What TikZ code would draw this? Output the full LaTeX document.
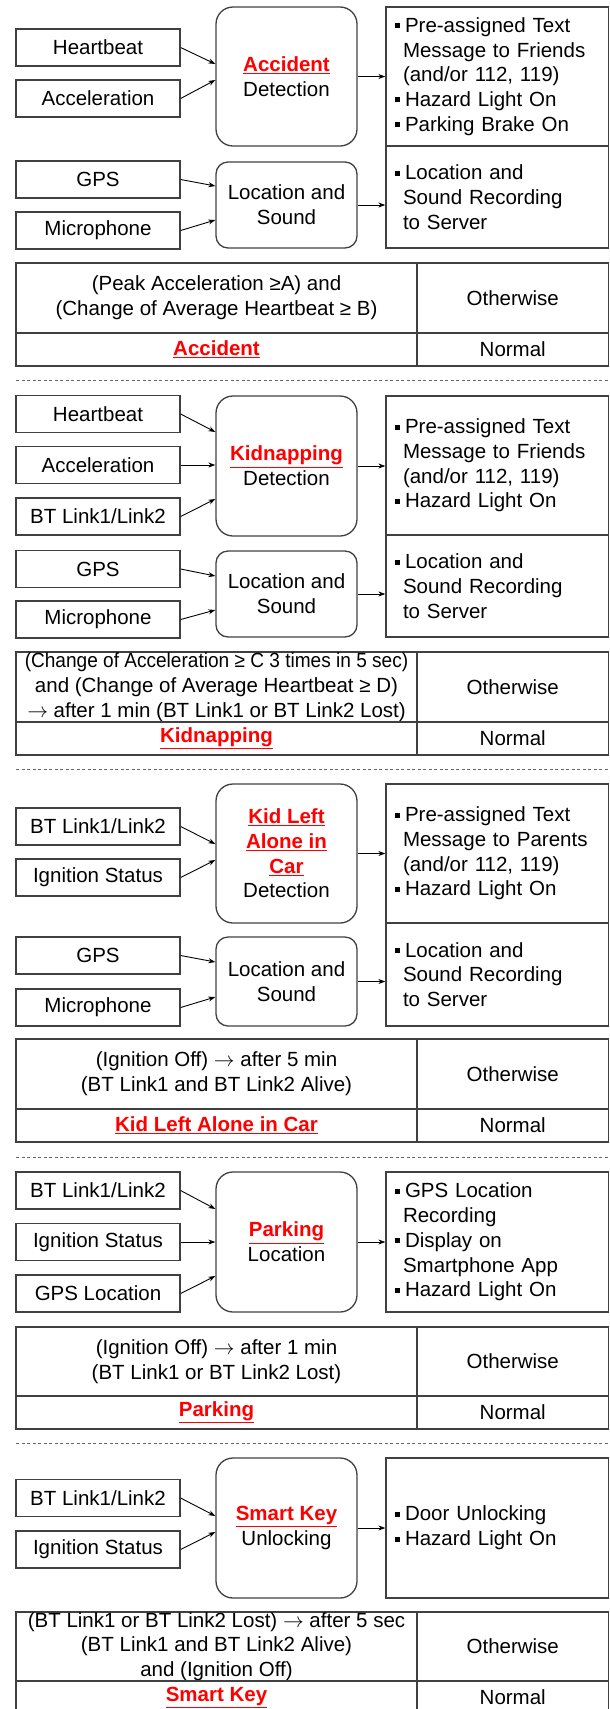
\documentclass[tikz,border=0pt]{standalone}
\usepackage{fontspec}
\setmainfont{Liberation Sans}
\usetikzlibrary{arrows.meta}

\newcommand{\redkey}[1]{\textcolor{red}{\underline{\textbf{#1}}}}
\newcommand{\bul}{\rule[0.2em]{5pt}{5pt}\hspace{5pt}}
\newcommand{\cont}{\hspace*{8pt}}
\newcommand{\thento}{$\rightarrow$}

\begin{document}
\begin{tikzpicture}[x=1pt, y=-1pt,
  every node/.style={font=\fontsize{20.5pt}{24.7pt}\selectfont},
  inbox/.style={draw=black!75, line width=1.3pt, minimum width=164pt, minimum height=37pt, inner sep=0pt},
  procbox/.style={draw=black!75, line width=1.3pt, rounded corners=17pt, minimum width=141pt, align=center, inner sep=0pt},
  outbox/.style={draw=black!75, line width=1.3pt, text width=204.5pt, inner xsep=9pt, inner ysep=0pt, align=left},
  cell/.style={draw=black!75, line width=1.3pt, align=center, inner sep=0pt},
  arr/.style={-{Stealth[length=7pt,width=5pt]}, line width=0.9pt}]

\useasboundingbox (0,0) rectangle (610,1709);

% accident
\node [inbox] (hb_1) at (98,47.5) {Heartbeat};
\node [inbox] (acc_1) at (98,98.5) {Acceleration};
\node [inbox] (gps_1) at (98,179.5) {GPS};
\node [inbox] (mic_1) at (98,230.5) {Microphone};

\node [procbox, minimum height=139pt] (det_1) at (286.5,76.5) {\redkey{Accident}\\Detection};
\node [procbox, minimum height=86pt, rounded corners=12pt] (loc_1) at (286.5,205) {Location and\\Sound};

\node [outbox, minimum height=139pt] (act_1) at (497.25,76.5) {\bul Pre-assigned Text\\\cont Message to Friends\\\cont (and/or 112, 119)\\\bul Hazard Light On\\\bul Parking Brake On};
\node [outbox, minimum height=102pt] (rec_1) at (497.25,197) {\bul Location and\\\cont Sound Recording\\\cont to Server};

\draw[arr] (hb_1.east)--([yshift=12.5pt]det_1.west);
\draw[arr] (acc_1.east)--([yshift=-3.5pt]det_1.west);
\draw[arr] (gps_1.east)--([yshift=19pt]loc_1.west);
\draw[arr] (mic_1.east)--([yshift=-15pt]loc_1.west);
\draw[arr] (det_1.east)--(act_1.west);
\draw[arr] (loc_1.east)--(loc_1.east -| rec_1.west);

\node [cell, minimum width=401pt, minimum height=70pt] (cond_1) at (216.5,298) {(Peak Acceleration ≥A) and\\(Change of Average Heartbeat ≥ B)};
\node [cell, minimum width=191.5pt, minimum height=70pt] (else_1) at (512.75,298) {Otherwise};
\node [cell, minimum width=401pt, minimum height=33pt] (res_1) at (216.5,349.5) {\redkey{Accident}};
\node [cell, minimum width=191.5pt, minimum height=33pt] (norm_1) at (512.75,349.5) {Normal};

% kidnapping
\node [inbox] (hb_2) at (98,414) {Heartbeat};
\node [inbox] (acc_2) at (98,465) {Acceleration};
\node [inbox] (bt_2) at (98,516.5) {BT Link1/Link2};
\node [inbox] (gps_2) at (98,569) {GPS};
\node [inbox] (mic_2) at (98,619.5) {Microphone};

\node [procbox, minimum height=140pt] (det_2) at (286.5,466) {\redkey{Kidnapping}\\Detection};
\node [procbox, minimum height=86pt, rounded corners=12pt] (loc_2) at (286.5,594) {Location and\\Sound};

\node [outbox, minimum height=139pt] (act_2) at (497.25,465.5) {\bul Pre-assigned Text\\\cont Message to Friends\\\cont (and/or 112, 119)\\\bul Hazard Light On};
\node [outbox, minimum height=102pt] (rec_2) at (497.25,586) {\bul Location and\\\cont Sound Recording\\\cont to Server};

\draw[arr] (hb_2.east)--([yshift=34pt]det_2.west);
\draw[arr] (acc_2.east)--(acc_2.east -| det_2.west);
\draw[arr] (bt_2.east)--([yshift=-33pt]det_2.west);
\draw[arr] (gps_2.east)--([yshift=18pt]loc_2.west);
\draw[arr] (mic_2.east)--([yshift=-16pt]loc_2.west);
\draw[arr] (det_2.east)--(det_2.east -| act_2.west);
\draw[arr] (loc_2.east)--(loc_2.east -| rec_2.west);

\node [cell, minimum width=401pt, minimum height=70pt] (cond_2) at (216.5,687) {\scalebox{0.93}[1]{(Change of Acceleration ≥ C 3 times in 5 sec)}\\and (Change of Average Heartbeat ≥ D)\\\thento{} after 1 min (BT Link1 or BT Link2 Lost)};
\node [cell, minimum width=191.5pt, minimum height=70pt] (else_2) at (512.75,687) {Otherwise};
\node [cell, minimum width=401pt, minimum height=33pt] (res_2) at (216.5,738.5) {\redkey{Kidnapping}};
\node [cell, minimum width=191.5pt, minimum height=33pt] (norm_2) at (512.75,738.5) {Normal};

% kid left alone in car
\node [inbox] (bt_3) at (98,826.5) {BT Link1/Link2};
\node [inbox] (ign_3) at (98,877.5) {Ignition Status};
\node [inbox] (gps_3) at (98,955.5) {GPS};
\node [inbox] (mic_3) at (98,1007.5) {Microphone};

\node [procbox, minimum height=139pt] (det_3) at (286.5,853.5) {\redkey{Kid Left}\\\redkey{Alone in}\\\redkey{Car}\\Detection};
\node [procbox, minimum height=89pt, rounded corners=12pt] (loc_3) at (286.5,981.5) {Location and\\Sound};

\node [outbox, minimum height=139pt] (act_3) at (497.25,853.5) {\bul Pre-assigned Text\\\cont Message to Parents\\\cont (and/or 112, 119)\\\bul Hazard Light On};
\node [outbox, minimum height=103pt] (rec_3) at (497.25,974.5) {\bul Location and\\\cont Sound Recording\\\cont to Server};

\draw[arr] (bt_3.east)--([yshift=9.5pt]det_3.west);
\draw[arr] (ign_3.east)--([yshift=-6.5pt]det_3.west);
\draw[arr] (gps_3.east)--([yshift=19.5pt]loc_3.west);
\draw[arr] (mic_3.east)--([yshift=-15.5pt]loc_3.west);
\draw[arr] (det_3.east)--(act_3.west);
\draw[arr] (loc_3.east)--(loc_3.east -| rec_3.west);

\node [cell, minimum width=401pt, minimum height=70pt] (cond_3) at (216.5,1074) {(Ignition Off) \thento{} after 5 min\\(BT Link1 and BT Link2 Alive)};
\node [cell, minimum width=191.5pt, minimum height=70pt] (else_3) at (512.75,1074) {Otherwise};
\node [cell, minimum width=401pt, minimum height=33pt] (res_3) at (216.5,1125.5) {\redkey{Kid Left Alone in Car}};
\node [cell, minimum width=191.5pt, minimum height=33pt] (norm_3) at (512.75,1125.5) {Normal};

% parking
\node [inbox] (bt_4) at (98,1190.5) {BT Link1/Link2};
\node [inbox] (ign_4) at (98,1242) {Ignition Status};
\node [inbox] (gpsl_4) at (98,1293.5) {GPS Location};

\node [procbox, minimum height=140pt] (det_4) at (286.5,1242) {\redkey{Parking}\\Location};
\node [outbox, minimum height=140pt] (act_4) at (497.25,1242) {\bul GPS Location\\\cont Recording\\\bul Display on\\\cont Smartphone App\\\bul Hazard Light On};

\draw[arr] (bt_4.east)--([yshift=33pt]det_4.west);
\draw[arr] (ign_4.east)--(det_4.west);
\draw[arr] (gpsl_4.east)--([yshift=-34pt]det_4.west);
\draw[arr] (det_4.east)--(act_4.west);

\node [cell, minimum width=401pt, minimum height=69pt] (cond_4) at (216.5,1361.5) {(Ignition Off) \thento{} after 1 min\\(BT Link1 or BT Link2 Lost)};
\node [cell, minimum width=191.5pt, minimum height=69pt] (else_4) at (512.75,1361.5) {Otherwise};
\node [cell, minimum width=401pt, minimum height=33pt] (res_4) at (216.5,1412.5) {\redkey{Parking}};
\node [cell, minimum width=191.5pt, minimum height=33pt] (norm_4) at (512.75,1412.5) {Normal};

% smart key
\node [inbox] (bt_5) at (98,1498) {BT Link1/Link2};
\node [inbox] (ign_5) at (98,1549.5) {Ignition Status};

\node [procbox, minimum height=140pt] (det_5) at (286.5,1528) {\redkey{Smart Key}\\Unlocking};
\node [outbox, minimum height=140pt] (act_5) at (497.25,1528) {\bul Door Unlocking\\\bul Hazard Light On};

\draw[arr] (bt_5.east)--([yshift=12pt]det_5.west);
\draw[arr] (ign_5.east)--([yshift=-4pt]det_5.west);
\draw[arr] (det_5.east)--(act_5.west);

\node [cell, minimum width=401pt, minimum height=69pt] (cond_5) at (216.5,1646.5) {(BT Link1 or BT Link2 Lost) \thento{} after 5 sec\\(BT Link1 and BT Link2 Alive)\\and (Ignition Off)};
\node [cell, minimum width=191.5pt, minimum height=69pt] (else_5) at (512.75,1646.5) {Otherwise};
\node [cell, minimum width=401pt, minimum height=33pt] (res_5) at (216.5,1697.5) {\redkey{Smart Key}};
\node [cell, minimum width=191.5pt, minimum height=33pt] (norm_5) at (512.75,1697.5) {Normal};

% separators
\foreach \y in {380,769,1157,1443}
  \draw[black!60, line width=1pt, dash pattern=on 3pt off 2.5pt] (16,\y)--(610,\y);

\end{tikzpicture}
\end{document}
